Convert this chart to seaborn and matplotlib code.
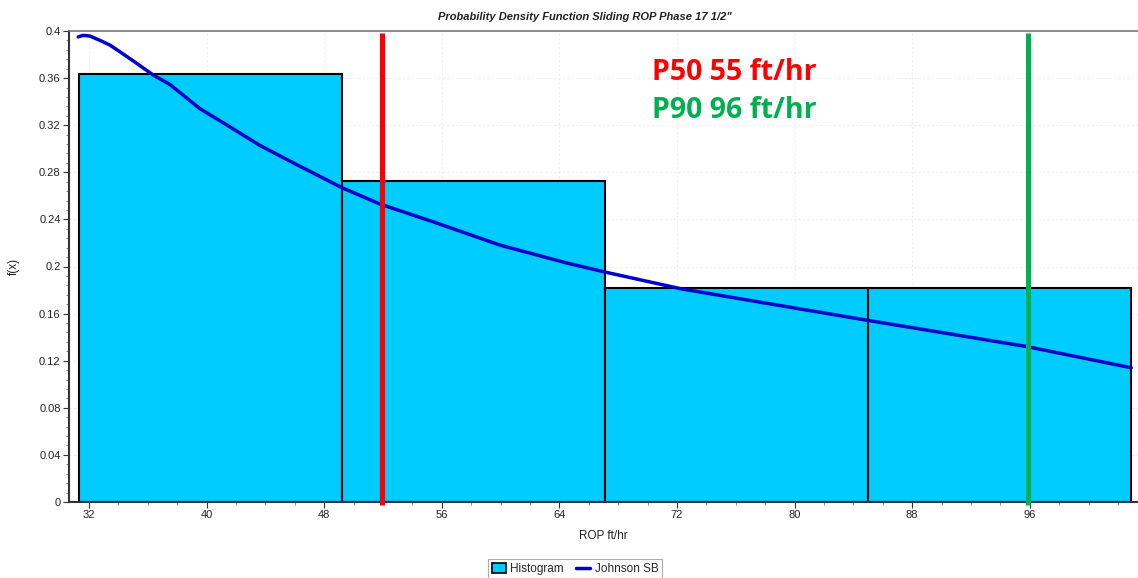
import numpy as np
import pandas as pd
import matplotlib
matplotlib.use("Agg")
import matplotlib.pyplot as plt
import seaborn as sns
from matplotlib.patches import Patch
from matplotlib.lines import Line2D
from matplotlib.ticker import MultipleLocator, FuncFormatter

# ---- data ----
bin_edges = [31.3, 49.2, 67.1, 85.0, 102.9]
bin_heights = [0.3636, 0.2727, 0.1818, 0.1818]

curve_x = [31.27, 31.6, 32.07, 32.75, 33.43, 34.1, 35.25, 36.37, 37.5, 39.55, 41.4,
           43.6, 45.9, 49.2, 51.8, 55.4, 60.0, 64.5, 67.2, 72.3, 85.1, 95.8, 102.9]
curve_y = [0.395, 0.3963, 0.3957, 0.392, 0.388, 0.3824, 0.3725, 0.3626, 0.3546, 0.334, 0.320,
           0.303, 0.288, 0.267, 0.253, 0.238, 0.218, 0.203, 0.195, 0.181, 0.154, 0.132, 0.114]

p50_x = 51.9
p90_x = 95.9
x_ticks = [32, 40, 48, 56, 64, 72, 80, 88, 96]
y_ticks = [0, 0.04, 0.08, 0.12, 0.16, 0.2, 0.24, 0.28, 0.32, 0.36, 0.4]

title = 'Probability Density Function Sliding ROP Phase 17 1/2"'
xlabel = "ROP ft/hr"
ylabel = "f(x)"
legend_labels = ["Histogram", "Johnson SB"]
p50_text = "P50 55 ft/hr"
p90_text = "P90 96 ft/hr"

# ---- style ----
sns.set_theme(style="white")
plt.rcParams["font.family"] = ["Liberation Sans", "DejaVu Sans"]

W, H = 1138, 578
fig = plt.figure(figsize=(W / 100, H / 100), dpi=100)
L, R, T, B = 69, 1138, 31, 502
ax = fig.add_axes([L / W, 1 - B / H, (R - L) / W, (B - T) / H])

bar_color = "#00CCFF"
line_color = "#0000CC"

centers = [(a + b) / 2 for a, b in zip(bin_edges[:-1], bin_edges[1:])]
df_bins = pd.DataFrame({"x": centers, "w": bin_heights})
sns.histplot(data=df_bins, x="x", weights="w", bins=bin_edges, stat="count",
             color=bar_color, alpha=1, edgecolor="black", linewidth=1.5, ax=ax, zorder=2)

df_curve = pd.DataFrame({"x": curve_x, "y": curve_y})
sns.lineplot(data=df_curve, x="x", y="y", color=line_color, linewidth=2.5, ax=ax,
             zorder=4, sort=False)
for ln in ax.get_lines():
    ln.set_solid_joinstyle("round")
    ln.set_solid_capstyle("round")

for xv, col in [(p50_x, "#FF0000"), (p90_x, "#00B050")]:
    ax.axvline(xv, ymin=-0.007, ymax=0.996, color=col, linewidth=3.7, zorder=5,
               clip_on=False, solid_capstyle="butt")

x0 = 30.64
ax.set_xlim(x0, x0 + (R - L) / 14.7)
ax.set_ylim(0, 0.4)

ax.set_xticks(x_ticks)
ax.set_yticks(y_ticks)
ax.xaxis.set_minor_locator(MultipleLocator(2))
ax.yaxis.set_minor_locator(MultipleLocator(0.008))
ax.yaxis.set_major_formatter(FuncFormatter(lambda v, p: f"{v:g}"))
ax.tick_params(axis="both", which="major", direction="out", length=4, width=0.8,
               labelsize=8, colors="#333333", labelcolor="#222222", pad=2,
               bottom=True, left=True)
ax.tick_params(axis="both", which="minor", direction="out", length=2, width=0.6,
               colors="#777777", bottom=True, left=True)

ax.grid(True, which="major", color="#eeeeee", linestyle=(0, (2, 2)), linewidth=0.8, zorder=0)
ax.set_axisbelow(True)

for s in ["left", "bottom"]:
    ax.spines[s].set_color("#333333")
    ax.spines[s].set_linewidth(1.5)
ax.spines["top"].set_color("#777777")
ax.spines["top"].set_linewidth(1.2)
ax.spines["right"].set_visible(False)

ax.set_xlabel(xlabel, fontsize=8.5, color="#222222", labelpad=7)
ax.set_ylabel(ylabel, fontsize=8.5, color="#222222", labelpad=14)

fig.text(585 / W, 1 - 17 / H, title, ha="center", va="center", fontsize=8,
         fontweight="bold", fontstyle="italic", color="#222222")

fig.text(652 / W, 1 - 73 / H, p50_text, ha="left", va="center", fontsize=20.5,
         fontweight="bold", color="#FF0000", family=["Open Sans", "DejaVu Sans"])
fig.text(652 / W, 1 - 111 / H, p90_text, ha="left", va="center", fontsize=20.5,
         fontweight="bold", color="#00B050", family=["Open Sans", "DejaVu Sans"])

handles = [Patch(facecolor=bar_color, edgecolor="black", linewidth=1.2),
           Line2D([0], [0], color=line_color, linewidth=2.5)]
leg = fig.legend(handles, legend_labels, loc="center", bbox_to_anchor=(575 / W, 1 - 569 / H),
                 ncol=2, fontsize=8.5, frameon=True, fancybox=False, edgecolor="#999999",
                 handlelength=1.2, handleheight=0.9, handletextpad=0.4, columnspacing=1.0,
                 borderpad=0.3)
leg.get_frame().set_linewidth(0.8)

fig.savefig("out.png", dpi=100)
